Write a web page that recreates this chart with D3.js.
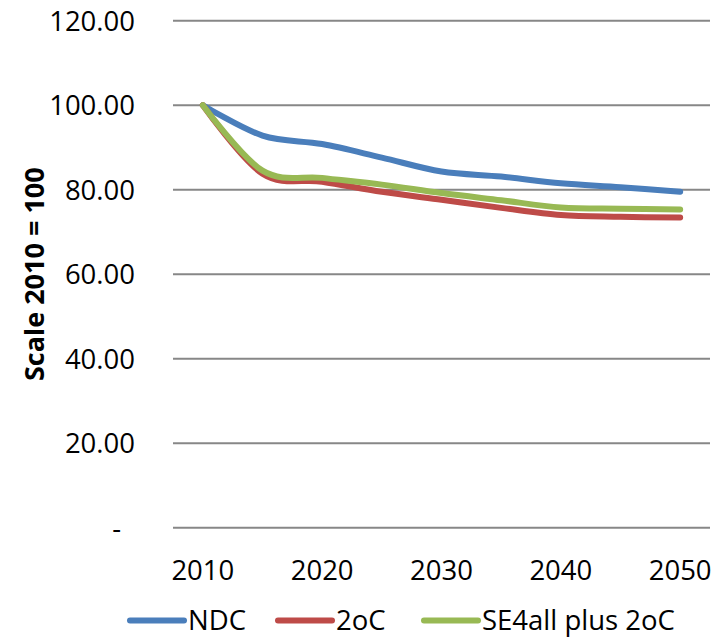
<!DOCTYPE html>
<html>
<head>
<meta charset="utf-8">
<script src="https://cdn.jsdelivr.net/npm/d3@7"></script>
<style>
  html, body { margin: 0; padding: 0; background: #fff; }
  svg { display: block; }
  text { font-family: "Open Sans", "Noto Sans", sans-serif; fill: #000; }
</style>
</head>
<body>
<svg id="chart" width="720" height="638"></svg>
<script>
// Index of emissions, scaled so that 2010 = 100
const years = [2010, 2015, 2020, 2025, 2030, 2035, 2040, 2045, 2050];
const yearLabels = [2010, 2020, 2030, 2040, 2050];
const ndc    = [100, 92.8, 90.8, 87.6, 84.3, 83.1, 81.5, 80.6, 79.5];
const twoC   = [100, 83.8, 81.9, 79.5, 77.6, 75.7, 74.0, 73.6, 73.4];
const se4all = [100, 84.5, 82.8, 81.2, 79.2, 77.5, 75.8, 75.5, 75.3];
const seriesNames = ["NDC", "2oC", "SE4all plus 2oC"];
const seriesColors = ["#4a7ebb", "#be4b48", "#98b954"];
const yTicks = [0, 20, 40, 60, 80, 100, 120];
const yTitle = "Scale 2010 = 100";

const series = [ndc, twoC, se4all].map((vals, i) => ({
  name: seriesNames[i],
  color: seriesColors[i],
  values: vals.map((v, j) => ({ year: years[j], value: v }))
}));

const svg = d3.select("#chart");
const plot = { left: 173, right: 710, top: 20.7, bottom: 527.7 };

const x = d3.scaleBand().domain(years).range([plot.left, plot.right]);
const y = d3.scaleLinear().domain([0, 120]).range([plot.bottom, plot.top]);
const cx = d => x(d) + x.bandwidth() / 2;

// horizontal gridlines
svg.append("g")
  .selectAll("line")
  .data(yTicks)
  .join("line")
  .attr("x1", plot.left).attr("x2", plot.right)
  .attr("y1", d => y(d)).attr("y2", d => y(d))
  .attr("stroke", "#878787")
  .attr("stroke-width", 2);

// y tick labels (accounting style: zero shown as a dash)
svg.append("g")
  .selectAll("text")
  .data(yTicks)
  .join("text")
  .attr("x", d => d === 0 ? 121 : 135)
  .attr("y", d => y(d))
  .attr("dy", "0.36em")
  .attr("text-anchor", "end")
  .style("font-size", "27.5px")
  .text(d => d === 0 ? "-" : d.toFixed(2));

// x tick labels
svg.append("g")
  .selectAll("text")
  .data(yearLabels)
  .join("text")
  .attr("x", d => cx(d))
  .attr("y", 580)
  .attr("text-anchor", "middle")
  .style("font-size", "27.5px")
  .text(d => d);

// y axis title
svg.append("text")
  .attr("transform", `translate(44, ${(plot.top + plot.bottom) / 2}) rotate(-90)`)
  .attr("text-anchor", "middle")
  .style("font-size", "27px")
  .style("font-weight", "bold")
  .text(yTitle);

// smoothed series lines
const line = d3.line()
  .x(d => cx(d.year))
  .y(d => y(d.value))
  .curve(d3.curveCardinal.tension(0));

svg.append("g")
  .selectAll("path")
  .data(series)
  .join("path")
  .attr("d", d => line(d.values))
  .attr("fill", "none")
  .attr("stroke", d => d.color)
  .attr("stroke-width", 6)
  .attr("stroke-linecap", "round")
  .attr("stroke-linejoin", "round");

// legend
const legendX = [130, 278, 424];
const legend = svg.append("g")
  .selectAll("g")
  .data(series)
  .join("g")
  .attr("transform", (d, i) => `translate(${legendX[i]}, 620.5)`);
legend.append("line")
  .attr("x1", 0).attr("x2", 54)
  .attr("stroke", d => d.color)
  .attr("stroke-width", 6)
  .attr("stroke-linecap", "round");
legend.append("text")
  .attr("x", 58)
  .attr("y", 9.5)
  .style("font-size", "27.5px")
  .text(d => d.name);
</script>
</body>
</html>
